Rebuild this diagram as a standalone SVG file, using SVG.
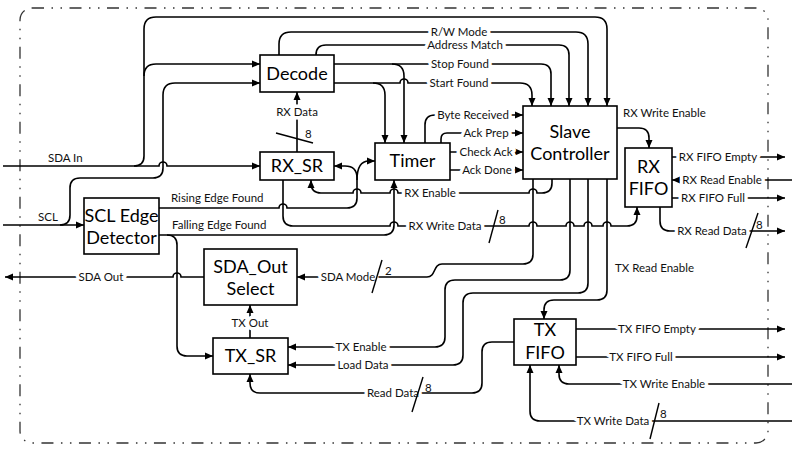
<svg xmlns="http://www.w3.org/2000/svg" width="796" height="451" viewBox="0 0 796 451">
<defs>
<marker id="arr" viewBox="0 0 10 10" refX="10" refY="5" markerWidth="8" markerHeight="8" markerUnits="userSpaceOnUse" orient="auto">
<path d="M0,0.6 L10,5 L0,9.4 z" fill="#000"/>
</marker>
</defs>
<style>
.box{fill:#fff;stroke:#000;stroke-width:1.6}
.n{font-family:Lato,'Liberation Sans',sans-serif;font-size:18px;text-anchor:middle;fill:#000}
.w{fill:none;stroke:#000;stroke-width:1.6}
.a{marker-end:url(#arr)}
.l{font-family:Lato,'Liberation Sans',sans-serif;font-size:11.5px;fill:#111}
.c{text-anchor:middle;paint-order:stroke;stroke:#fff;stroke-width:7px;stroke-linejoin:round}
.s{stroke:#000;stroke-width:1.4}
.border{fill:none;stroke:#333;stroke-width:1.3;stroke-dasharray:12 7.5 1.5 7.5 1.5 7.5}
</style>
<rect width="796" height="451" fill="#fff"/>
<rect class="border" x="20" y="8" width="748" height="435" rx="12"/>

<g id="connectors">
<path class="w a" d="M3,166 H159 a4,4 0 0 1 8,0 H260"/>
<path class="w a" d="M134,166 Q144,166 144,156 V29 Q144,17 156,17 H595 Q607,17 607,29 V106"/>
<path class="w a" d="M144,76 Q144,64 156,64 H260"/>
<path class="w a" d="M3,225 H84"/>
<path class="w a" d="M60,225 Q70,225 70,215 V188 Q70,178 80,178 H153 Q163,178 163,168 V95 Q163,83 175,83 H260"/>
<path class="w a" d="M279,55 V44 Q279,32 291,32 H576 Q588,32 588,44 V106"/>
<path class="w a" d="M316,55 Q316,45 326,45 H559 Q569,45 569,55 V106"/>
<path class="w a" d="M334,64 H541 Q551,64 551,74 V106"/>
<path class="w a" d="M392,64 Q404,64 404,76 V143"/>
<path class="w a" d="M334,83 H400 a4,4 0 0 1 8,0 H520 Q532,83 532,95 V106"/>
<path class="w a" d="M373,83 Q385,83 385,95 V143"/>
<path class="w a" d="M297,152 V92"/>
<path class="w a" d="M425,143 V125 Q425,115 435,115 H523"/>
<path class="w a" d="M441,143 V139 Q441,133 447,133 H523"/>
<path class="w a" d="M450,152 H523"/>
<path class="w a" d="M450,170 H523"/>
<path class="w a" d="M552,179 V183 Q552,193 542,193 H537 a4,4 0 0 0 -8,0 H398 a4,4 0 0 0 -8,0 H361 a4,4 0 0 0 -8,0 H321 Q311,193 311,183 V180"/>
<path class="w a" d="M159,208 H279 a4,4 0 0 1 8,0 H347 Q357,208 357,198 V178 Q357,166 345,166 H334"/>
<path class="w a" d="M357,180 Q357,161 369,161 H375"/>
<path class="w a" d="M283,180 V216 Q283,226 293,226 H390 a4,4 0 0 1 8,0 H529 a4,4 0 0 1 8,0 H566 a4,4 0 0 1 8,0 H584 a4,4 0 0 1 8,0 H603 a4,4 0 0 1 8,0 H627 Q637,226 637,216 V207"/>
<path class="w a" d="M159,235 H384 Q394,235 394,225 V180"/>
<path class="w a" d="M167,235 Q177,235 177,245 V346 Q177,356 187,356 H213"/>
<path class="w a" d="M204,277 H181 a4,4 0 0 0 -8,0 H5"/>
<path class="w a" d="M533,179 V254 Q533,264 523,264 H442 C433,264 436,277 427,277 H297"/>
<path class="w a" d="M570,179 V270 Q570,280 560,280 H455 Q445,280 445,290 V337 Q445,347 435,347 H288"/>
<path class="w a" d="M588,179 V283 Q588,293 578,293 H473 Q463,293 463,303 V355 Q463,365 453,365 H288"/>
<path class="w a" d="M607,179 V290 Q607,300 597,300 H554 Q544,300 544,310 V319"/>
<path class="w a" d="M514,342 H492 Q482,342 482,352 V383 Q482,393 472,393 H260 Q250,393 250,383 V374"/>
<path class="w a" d="M250,338 V305"/>
<path class="w a" d="M617,128 H639 Q649,128 649,138 V148"/>
<path class="w a" d="M672,157 H785"/>
<path class="w a" d="M792,180 H672"/>
<path class="w a" d="M672,198 H785"/>
<path class="w a" d="M660,207 V221 Q660,231 670,231 H785"/>
<path class="w a" d="M576,329 H785"/>
<path class="w a" d="M576,357 H785"/>
<path class="w a" d="M792,384 H569 Q559,384 559,374 V365"/>
<path class="w a" d="M792,421 H540 Q530,421 530,411 V365"/>
<text class="l" x="48" y="162">SDA In</text>
<text class="l" x="38" y="221">SCL</text>
<text class="l" x="171" y="202">Rising Edge Found</text>
<text class="l" x="172" y="229">Falling Edge Found</text>
<text class="l" x="623" y="117">RX Write Enable</text>
<text class="l" x="615" y="272">TX Read Enable</text>
<text class="l c" x="459" y="36">R/W Mode</text>
<text class="l c" x="465" y="49">Address Match</text>
<text class="l c" x="460" y="68">Stop Found</text>
<text class="l c" x="459" y="87">Start Found</text>
<text class="l c" x="297" y="116">RX Data</text>
<text class="l" x="305" y="138">8</text>
<text class="l c" x="473" y="119">Byte Received</text>
<text class="l c" x="486" y="137">Ack Prep</text>
<text class="l c" x="486" y="156">Check Ack</text>
<text class="l c" x="487" y="174">Ack Done</text>
<text class="l c" x="430" y="197">RX Enable</text>
<text class="l c" x="445" y="230">RX Write Data</text>
<text class="l" x="499" y="224">8</text>
<text class="l c" x="348" y="281">SDA Mode</text>
<text class="l" x="385" y="275">2</text>
<text class="l c" x="101" y="281">SDA Out</text>
<text class="l c" x="250" y="327">TX Out</text>
<text class="l c" x="361" y="351">TX Enable</text>
<text class="l c" x="363" y="369">Load Data</text>
<text class="l c" x="393" y="397">Read Data</text>
<text class="l" x="425" y="392">8</text>
<text class="l c" x="718" y="161">RX FIFO Empty</text>
<text class="l c" x="722" y="184">RX Read Enable</text>
<text class="l c" x="713" y="202">RX FIFO Full</text>
<text class="l c" x="712" y="235">RX Read Data</text>
<text class="l" x="756" y="229">8</text>
<text class="l c" x="657" y="333">TX FIFO Empty</text>
<text class="l c" x="641" y="361">TX FIFO Full</text>
<text class="l c" x="664" y="388">TX Write Enable</text>
<text class="l c" x="613" y="425">TX Write Data</text>
<text class="l" x="660" y="418">8</text>
<line class="s" x1="276" y1="133" x2="313" y2="143"/>
<line class="s" x1="498" y1="210" x2="489" y2="243"/>
<line class="s" x1="382" y1="260" x2="372" y2="293"/>
<line class="s" x1="423" y1="377" x2="412" y2="412"/>
<line class="s" x1="659" y1="403" x2="650" y2="439"/>
<line class="s" x1="758" y1="213" x2="746" y2="248"/>
</g>

<g id="decode"><rect class="box" x="260" y="55" width="74" height="37"/><text class="n" x="297" y="80">Decode</text></g>
<g id="rx_sr"><rect class="box" x="260" y="152" width="74" height="28"/><text class="n" x="297" y="172">RX_SR</text></g>
<g id="timer"><rect class="box" x="375" y="143" width="75" height="37"/><text class="n" x="412.5" y="167">Timer</text></g>
<g id="slave_controller"><rect class="box" x="523" y="106" width="94" height="73"/><text class="n" x="570" y="138">Slave</text><text class="n" x="570" y="160">Controller</text></g>
<g id="rx_fifo"><rect class="box" x="625" y="148" width="47" height="59"/><text class="n" x="648.5" y="173">RX</text><text class="n" x="648.5" y="195">FIFO</text></g>
<g id="scl_edge_detector"><rect class="box" x="84" y="198" width="75" height="56"/><text class="n" x="121.5" y="222">SCL Edge</text><text class="n" x="121.5" y="244">Detector</text></g>
<g id="sda_out_select"><rect class="box" x="204" y="249" width="93" height="56"/><text class="n" x="250.5" y="273">SDA_Out</text><text class="n" x="250.5" y="295">Select</text></g>
<g id="tx_sr"><rect class="box" x="213" y="338" width="75" height="36"/><text class="n" x="250.5" y="362">TX_SR</text></g>
<g id="tx_fifo"><rect class="box" x="514" y="319" width="62" height="46"/><text class="n" x="545" y="336">TX</text><text class="n" x="545" y="359">FIFO</text></g>
</svg>
